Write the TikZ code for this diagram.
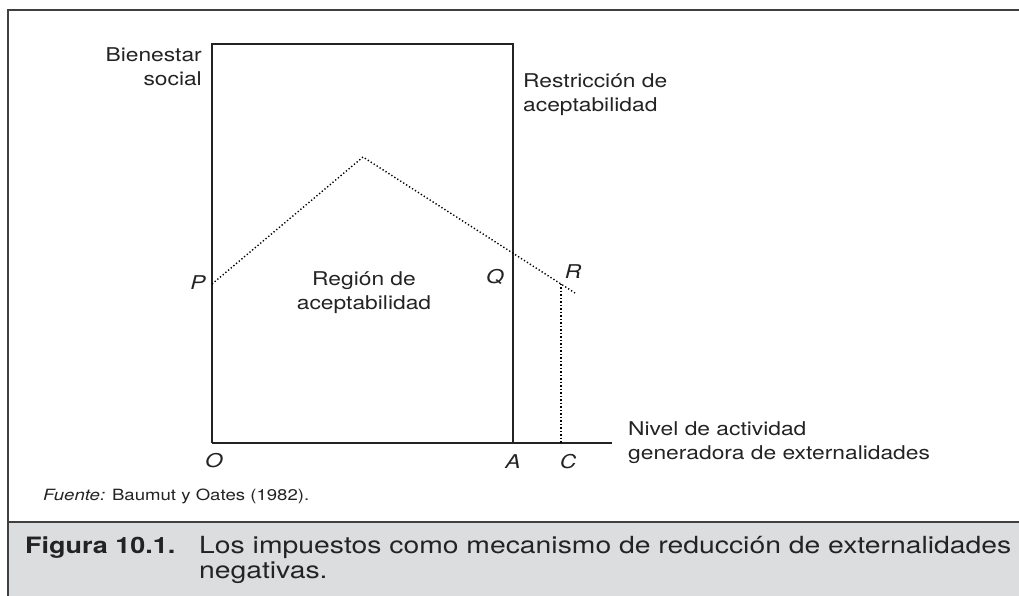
\documentclass[tikz,border=0pt]{standalone}
\usepackage{fontspec}
\setmainfont{TeX Gyre Heros}[FakeStretch=1.2]
\definecolor{capgray}{RGB}{220,221,223}
\definecolor{ink}{RGB}{35,35,35}
\begin{document}
\begin{tikzpicture}[x=1pt,y=-1pt,
  lbl/.style={font=\fontsize{19}{24}\selectfont, inner sep=0pt, text=ink},
  ital/.style={lbl, font=\fontsize{19}{24}\selectfont\itshape},
  axisline/.style={draw=ink, line width=1.3pt},
  dotline/.style={draw=black, line width=1.4pt, dash pattern=on 1.3pt off 2.2pt},
  frameline/.style={draw=black!75, line width=2pt}]
\useasboundingbox (0,0) rectangle (1019,595);
% frame and caption band
\fill[capgray] (8,522) rectangle (1030,600);
\draw[frameline] (8,600) -- (8,10) -- (1030,10);
\draw[draw=black!75, line width=1.5pt] (8,522) -- (1030,522);
% key points
\coordinate (O) at (212,443);
\coordinate (TL) at (212,44);
\coordinate (TR) at (513,44);
\coordinate (A) at (513,443);
\coordinate (E) at (612,443);
\coordinate (P) at (212,284);
\coordinate (Pk) at (363,157);
\coordinate (Rend) at (575,293);
\coordinate (Rt) at (561,283.7);
\coordinate (Cb) at (561,443);
% axes and restriction
\draw[axisline] (O) -- (TL) -- (TR) -- (A);
\draw[axisline] (O) -- (E);
% welfare curve
\draw[dotline] (P) -- (Pk) -- (Rend);
\draw[dotline] (Rt) -- (Cb);
% labels
\node[lbl, anchor=east, align=right] (bs) at (202,67) {Bienestar\\social};
\node[lbl, anchor=west, align=left] (ra) at (523,95) {Restricción de\\aceptabilidad};
\node[lbl, align=center] (reg) at (364,293) {Región de\\aceptabilidad};
\node[lbl, anchor=west, align=left] (niv) at (628,443) {Nivel de actividad\\generadora de externalidades};
\node[ital] (lP) at (198,283) {P};
\node[ital] (lQ) at (495,277) {Q};
\node[ital] (lR) at (573,272) {R};
\node[ital] (lO) at (214,461) {O};
\node[ital] (lA) at (513,462) {A};
\node[ital] (lC) at (568,462) {C};
% source
\node[inner sep=0pt, anchor=west, text=ink, font=\fontsize{15.5}{18}\selectfont] (src) at (43,496) {\textit{Fuente:} Baumut y Oates (1982).};
% caption
\node[inner sep=0pt, anchor=base west, text=ink, font=\fontsize{22.5}{24}\selectfont\bfseries] (fig) at (25,553) {Figura 10.1.};
\node[inner sep=0pt, anchor=base west, text=ink, font=\fontsize{23.6}{24}\selectfont] (cap1) at (199,553) {Los impuestos como mecanismo de reducción de externalidades};
\node[inner sep=0pt, anchor=base west, text=ink, font=\fontsize{23.6}{24}\selectfont] (cap2) at (199,578) {negativas.};
\end{tikzpicture}
\end{document}
